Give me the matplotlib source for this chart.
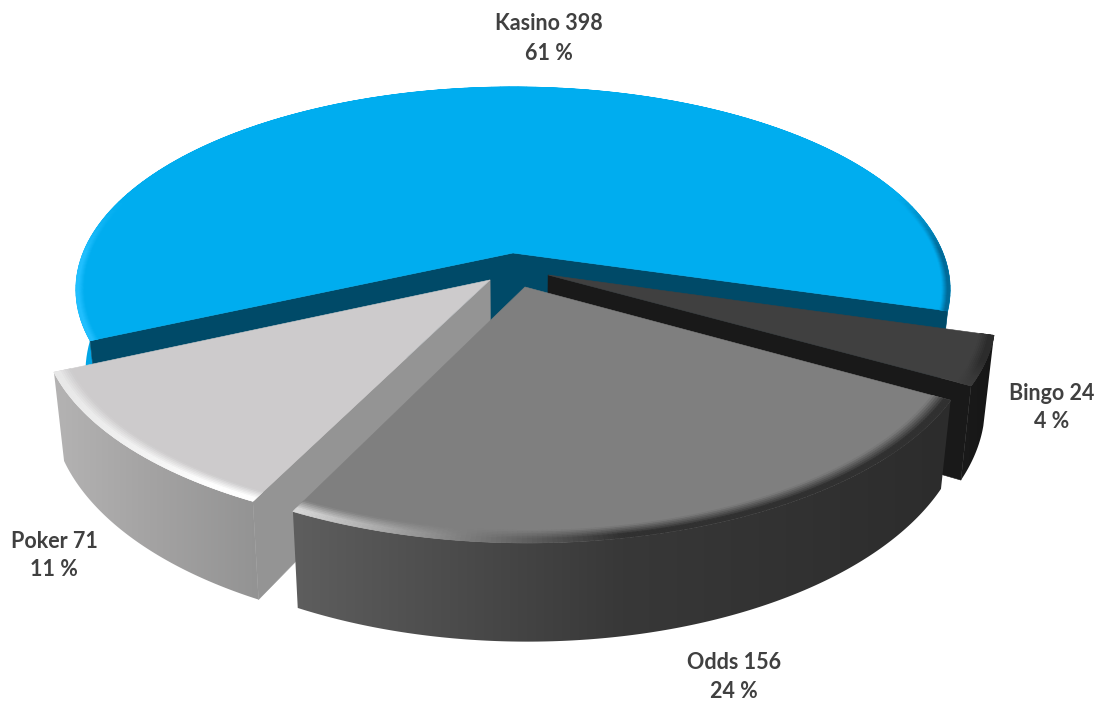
import matplotlib
matplotlib.use('Agg')
import matplotlib.pyplot as plt
import numpy as np
from matplotlib.collections import PolyCollection
from matplotlib.colors import LinearSegmentedColormap, to_rgb
from matplotlib.patches import Polygon

# datos
categorias = ['Kasino', 'Bingo', 'Odds', 'Poker']
valores = [398, 24, 156, 71]
porcentajes = [61, 4, 24, 11]

# estilo de cada porcion
top_col = ['#00ADEF', '#404040', '#7F7F7F', '#CDCBCC']
cut_col = ['#004A68', '#191919', '#404040', '#949494']
wall_izq = ['#00A6E6', '#1A1A1A', '#5E5E5E', '#B4B3B3']
wall_med = ['#009CD8', '#181818', '#383838', '#A3A2A2']
wall_der = ['#0092CC', '#161616', '#2C2C2C', '#939393']
rim_izq = ['#22C0FF', '#404040', '#D8D8D8', '#E8E8E8']
rim_med = ['#00ADEF', '#383838', '#808080', '#F6F6F6']
rim_der = ['#006A98', '#2C2C2C', '#303030', '#FFFFFF']
punto_rim = [0.5, 0.5, 0.25, 0.5]
ancho_bisel = [0.018, 0.03, 0.04, 0.035]
alturas = [80, 84, 78, 80]
# desplazamiento de la porcion en el plano del pastel
offset_u = [0, 0.08, 0.027, -0.052]
offset_v = [0, -0.11, -0.168, -0.134]
label_pos = [(549, 38.5), (1052, 407.5), (734, 677), (54, 555.5)]

# camara
CX, CY = 513, 253
A, B, K = 430, 196, 0.18
X_ESC = 0.978
INICIO = -16.3  # borde derecho de Kasino
PASO_LINEA = 14.5


def proyectar(u, v):
    d = 1 + K * v
    return CX + A * u / d, CY - B * v / d, d


def base(x, y, d, h):
    return CX + (x - CX) * X_ESC, y + h / d


def mezcla(c1, c2, t):
    c1, c2 = np.array(to_rgb(c1)), np.array(to_rgb(c2))
    return tuple(c1 + (c2 - c1) * t)


def color_rim(i, t):
    p = punto_rim[i]
    if t < p:
        return mezcla(rim_izq[i], rim_med[i], t / p)
    return mezcla(rim_med[i], rim_der[i], min(1, (t - p) / 0.25))


def pared(ax, i, xs, ys, bx, by, z, x_min, x_max):
    # degradado horizontal recortado con la forma de la pared
    y_min, y_max = ys.min(), by.max()
    cmap = LinearSegmentedColormap.from_list('p', [wall_izq[i], wall_med[i], wall_der[i]])
    im = ax.imshow(np.linspace(0, 1, 256)[None, :], cmap=cmap, aspect='auto', zorder=z,
                   extent=(x_min, x_max, y_max, y_min), interpolation='bilinear')
    forma = Polygon(np.c_[np.r_[xs, bx[::-1]], np.r_[ys, by[::-1]]], closed=True,
                    transform=ax.transData, fc='none', ec='none')
    ax.add_patch(forma)
    im.set_clip_path(forma)


def dibujar_porcion(ax, i, a1, a2, z):
    t = np.radians(np.linspace(a1, a2, 160))
    ou, ov = offset_u[i], offset_v[i]
    h = alturas[i]
    xs, ys, ds = proyectar(ou + np.cos(t), ov + np.sin(t))
    bx, by = base(xs, ys, ds, h)
    ax0, ay0, ad0 = proyectar(ou, ov)
    bx0, by0 = base(ax0, ay0, ad0, h)
    x_min, x_max = min(xs.min(), bx.min()), max(xs.max(), bx.max())

    # pared exterior (solo la parte de adelante)
    if i == 0:
        # Kasino tiene dos tramos visibles, uno a cada lado
        for sel in (t < np.pi / 2, t > np.pi / 2):
            pared(ax, i, xs[sel], ys[sel], bx[sel], by[sel], z, x_min, x_max)
    else:
        sel = np.sin(t) < 0.2
        pared(ax, i, xs[sel], ys[sel], bx[sel], by[sel], z, x_min, x_max)

    # caras de corte que miran hacia el frente
    if np.cos(t[0]) > 0:
        ax.fill([ax0, xs[0], bx[0], bx0], [ay0, ys[0], by[0], by0],
                color=cut_col[i], lw=0.4, zorder=z + 0.1)
    if np.cos(t[-1]) < 0:
        ax.fill([ax0, xs[-1], bx[-1], bx0], [ay0, ys[-1], by[-1], by0],
                color=cut_col[i], lw=0.4, zorder=z + 0.1)

    # cara superior
    ax.fill(np.r_[ax0, xs], np.r_[ay0, ys], color=top_col[i], lw=0.4, zorder=z + 0.2)

    # bisel del borde
    radios = np.linspace(1 - ancho_bisel[i], 1.0, 9)
    n = len(radios) - 1
    verts, cols = [], []
    for r in range(n):
        x1, y1, _ = proyectar(ou + radios[r] * np.cos(t), ov + radios[r] * np.sin(t))
        x2, y2, _ = proyectar(ou + radios[r + 1] * np.cos(t), ov + radios[r + 1] * np.sin(t))
        w = min(1, (r + 0.5) / (n * 0.7))
        for j in range(len(t) - 1):
            delante = np.clip((0.3 - np.sin(t[j])) / 0.3, 0, 1)
            verts.append([(x1[j], y1[j]), (x1[j + 1], y1[j + 1]), (x2[j + 1], y2[j + 1]), (x2[j], y2[j])])
            rim = color_rim(i, (xs[j] - x_min) / (x_max - x_min))
            cols.append(mezcla(top_col[i], rim, w * delante))
    ax.add_collection(PolyCollection(verts, facecolors=cols, edgecolors=cols, linewidths=0.5, zorder=z + 0.3))


fig = plt.figure(figsize=(10.97, 7.02), dpi=100)
ax = fig.add_axes([0, 0, 1, 1])

# Kasino va de INICIO hacia la izquierda por arriba; las demas siguen en sentido horario
total = sum(valores)
rangos = [(INICIO, INICIO + 360 * valores[0] / total)]
actual = INICIO
for v in valores[1:]:
    rangos.append((actual - 360 * v / total, actual))
    actual -= 360 * v / total

# de atras hacia adelante
for z, i in enumerate([0, 1, 3, 2]):
    dibujar_porcion(ax, i, rangos[i][0], rangos[i][1], z + 1)

for nom, val, pct, (x, y) in zip(categorias, valores, porcentajes, label_pos):
    for texto, dy in ((f'{nom} {val}', -PASO_LINEA), (f'{pct} %', PASO_LINEA)):
        ax.text(x, y + dy, texto, ha='center', va='center', family='Lato',
                fontweight='bold', fontsize=15.5, color='#404040', zorder=30)

ax.set_xlim(0, 1097)
ax.set_ylim(702, 0)
ax.axis('off')

fig.savefig('out.png', dpi=100, facecolor='white')
